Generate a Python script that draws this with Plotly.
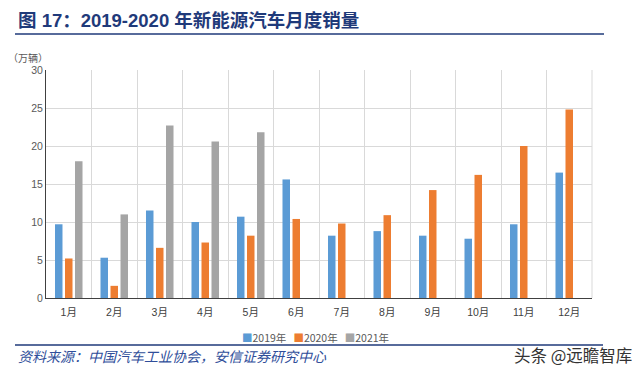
import plotly.graph_objects as go

months = ["1月", "2月", "3月", "4月", "5月", "6月", "7月", "8月", "9月", "10月", "11月", "12月"]
sales_2019 = [9.7, 5.3, 11.5, 10.0, 10.7, 15.6, 8.2, 8.8, 8.2, 7.8, 9.7, 16.5]
sales_2020 = [5.2, 1.6, 6.6, 7.3, 8.2, 10.4, 9.8, 10.9, 14.2, 16.2, 20.0, 24.8]
sales_2021 = [18.0, 11.0, 22.7, 20.6, 21.8, None, None, None, None, None, None, None]
series_names = ["2019年", "2020年", "2021年"]
colors = ["#5B9BD5", "#ED7D31", "#A5A5A5"]
y_ticks = [0, 5, 10, 15, 20, 25, 30]

# the page body has an 8px margin; work in window coordinates and convert
OFF = 8
W, H = 640 - OFF, 376 - OFF
# plot area in window coords: x 46..592, y 70..298
PX0, PX1, PY0, PY1 = 46, 592, 70, 298
L = PX0 - OFF
T = PY0 - OFF
R = W - (PX1 - OFF)
B = H - (PY1 - OFF)
PW = PX1 - PX0
PH = PY1 - PY0


def px_x(px):
    return (px - PX0) / PW


def px_y(py):
    return (PY1 - py) / PH


FONT = "Liberation Sans, Noto Sans CJK SC, sans-serif"

fig = go.Figure()
for name, vals, col in zip(series_names, [sales_2019, sales_2020, sales_2021], colors):
    fig.add_trace(go.Bar(x=months, y=vals, name=name, marker=dict(color=col, line=dict(width=0))))

fig.update_layout(
    width=W, height=H,
    margin=dict(l=L, r=R, t=T, b=B, autoexpand=False),
    paper_bgcolor="white", plot_bgcolor="white",
    barmode="group", bargap=0.34, bargroupgap=0.25,
    font=dict(family=FONT, size=10, color="#595959"),
    showlegend=False,
    xaxis=dict(type="category", tickson="boundaries", showgrid=True, gridcolor="#D9D9D9", gridwidth=1,
               showline=True, linecolor="#404040", linewidth=1, ticks="", ticklabelstandoff=4,
               tickfont=dict(size=10.5, color="#404040")),
    yaxis=dict(range=[0, 30], tickvals=y_ticks, showgrid=True, gridcolor="#D9D9D9", gridwidth=1,
               showline=True, linecolor="#404040", linewidth=1, ticks="", zeroline=False,
               tickfont=dict(size=10.5, color="#595959")),
)

# right boundary gridline of plot
fig.add_shape(type="line", xref="paper", yref="paper", x0=1, x1=1, y0=0, y1=1,
              line=dict(color="#D9D9D9", width=1))

# legend drawn as text
legend_text = "   ".join(
    f"<span style='color:{c}'>■</span>{n}" for n, c in zip(series_names, colors)
)
fig.add_annotation(text=legend_text, xref="paper", yref="paper", x=px_x(315), y=px_y(337),
                   xanchor="center", yanchor="middle", showarrow=False,
                   font=dict(size=10.5, color="#595959", family="Noto Sans CJK SC"))

# title
fig.add_annotation(text="<b>图 17：2019-2020 年新能源汽车月度销量</b>", xref="paper", yref="paper",
                   x=px_x(16), y=px_y(20), xanchor="left", yanchor="middle", showarrow=False,
                   font=dict(size=18.5, color="#1F3A7A", family="Liberation Sans, Noto Sans CJK SC"))
fig.add_shape(type="line", xref="paper", yref="paper", x0=px_x(15), x1=px_x(604), y0=px_y(34), y1=px_y(34),
              line=dict(color="#1F3A7A", width=1.5))

# unit label
fig.add_annotation(text="（万辆）", xref="paper", yref="paper", x=px_x(6), y=px_y(58),
                   xanchor="left", yanchor="middle", showarrow=False,
                   font=dict(size=10, color="#595959"))

# bottom line and source
fig.add_shape(type="line", xref="paper", yref="paper", x0=px_x(15), x1=px_x(603), y0=px_y(345), y1=px_y(345),
              line=dict(color="#1F3A7A", width=1.5))
fig.add_annotation(text="<i>资料来源：中国汽车工业协会，安信证券研究中心</i>", xref="paper", yref="paper",
                   x=px_x(16), y=px_y(356), xanchor="left", yanchor="middle", showarrow=False,
                   font=dict(size=14, color="#2F4E9A", family="Noto Sans CJK SC"))
fig.add_annotation(text="头条 @远瞻智库", xref="paper", yref="paper",
                   x=px_x(512), y=px_y(355), xanchor="left", yanchor="middle", showarrow=False,
                   font=dict(size=16.5, color="#333333", family="Noto Sans CJK SC"))

fig.write_html("out.html")
